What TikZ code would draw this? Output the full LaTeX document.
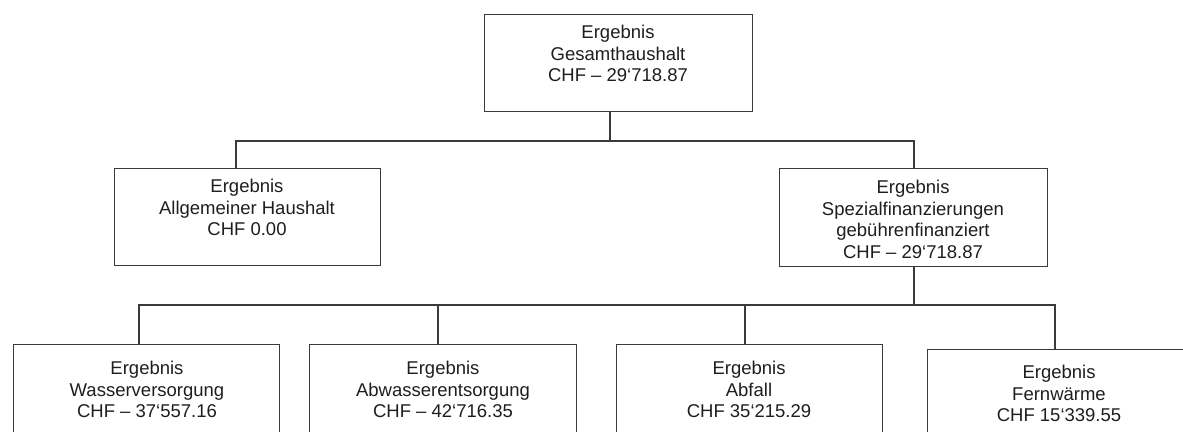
\documentclass[tikz,border=0pt]{standalone}
\usepackage{fontspec}
\setmainfont{Liberation Sans}
\begin{document}
\begin{tikzpicture}[x=1pt,y=1pt,
  box/.style={draw=linegray, line width=1.2pt, minimum width=266pt, minimum height=97pt, inner sep=0pt, anchor=north west},
  bottombox/.style={box, minimum height=140pt},
  txt/.style={align=center, text=textgray, inner sep=0pt, font=\fontsize{18.5}{21.6}\selectfont},
  conn/.style={draw=linegray, line width=1.2pt}]
\definecolor{linegray}{HTML}{3A3A3A}
\definecolor{textgray}{HTML}{1E1E1E}
\useasboundingbox (0,0) rectangle (1183,-431);
\clip (0,0) rectangle (1183,-431);
% boxes
\node[box, minimum width=268pt] (top) at (484,-14) {};
\node[box] (alg) at (114,-168) {};
\node[box, minimum width=268pt, minimum height=98pt] (spez) at (779,-168) {};
\node[bottombox] (b1) at (13,-344) {};
\node[bottombox, minimum width=267pt] (b2) at (309,-344) {};
\node[bottombox] (b3) at (616,-344) {};
\node[bottombox, minimum width=268pt] (b4) at (927,-349) {};
% texts
\node[txt] (ttop) at (618,-53.5) {Ergebnis\\Gesamthaushalt\\CHF – 29‘718.87};
\node[txt] (talg) at (247,-207.5) {Ergebnis\\Allgemeiner Haushalt\\CHF 0.00};
\node[txt] (tspez) at (913,-219.5) {Ergebnis\\Spezialfinanzierungen\\gebührenfinanziert\\CHF – 29‘718.87};
\node[txt] (tb1) at (147,-389.5) {Ergebnis\\Wasserversorgung\\CHF – 37‘557.16};
\node[txt] (tb2) at (443,-389.5) {Ergebnis\\Abwasserentsorgung\\CHF – 42‘716.35};
\node[txt] (tb3) at (749,-389.5) {Ergebnis\\Abfall\\CHF 35‘215.29};
\node[txt] (tb4) at (1059,-393.5) {Ergebnis\\Fernwärme\\CHF 15‘339.55};
% connector junctions
\coordinate (j1) at (610,-141);
\coordinate (j2) at (914,-305);
% connectors level 1
\draw[conn] (top.south -| j1) -- (j1);
\draw[conn] (alg.north -| 236,0) |- (j1) -| (spez.north -| 914,0);
% connectors level 2
\draw[conn] (spez.south -| j2) -- (j2);
\draw[conn] (b1.north -| 139,0) |- (j2) -| (b4.north -| 1055,0);
\draw[conn] (b2.north -| 438,0) -- (438,-305);
\draw[conn] (b3.north -| 745,0) -- (745,-305);
\end{tikzpicture}
\end{document}
